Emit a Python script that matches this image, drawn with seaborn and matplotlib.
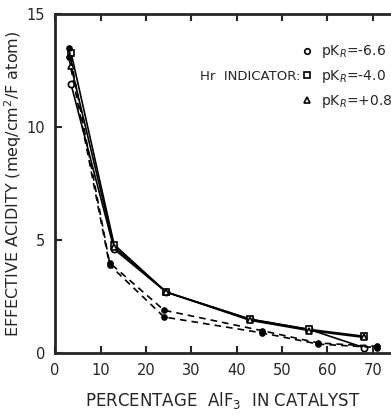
import pandas as pd
import seaborn as sns
import matplotlib.pyplot as plt
from matplotlib.lines import Line2D

# solid curves (one per Hr indicator)
solid_x = [3.5, 13, 24.5, 43, 56, 68]
circle_y = [11.9, 4.6, 2.7, 1.5, 1.05, 0.25]
square_y = [13.3, 4.8, 2.7, 1.5, 1.05, 0.75]
triangle_y = [12.7, 4.7, 2.7, 1.45, 1.0, 0.7]

# dashed curves
dashed_x = [3, 12, 24, 45.5, 58, 71]
dashed_a_y = [13.5, 4.0, 1.9, 1.0, 0.45, 0.3]
dashed_b_y = [13.1, 3.9, 1.6, 0.9, 0.4, 0.25]

legend_labels = ['pK$_R$=-6.6', 'pK$_R$=-4.0', 'pK$_R$=+0.8']

sns.set_style("ticks")
plt.rcParams['font.family'] = ['DejaVu Sans']
plt.rcParams['mathtext.fontset'] = 'dejavusans'

fig = plt.figure(figsize=(3.91, 4.15), dpi=100)
ax = fig.add_axes([0.141, 0.149, 0.859, 0.817])

solid = pd.DataFrame({
    'x': solid_x * 3,
    'y': circle_y + square_y + triangle_y,
    'ind': ['c'] * 6 + ['s'] * 6 + ['t'] * 6,
})
dashed = pd.DataFrame({
    'x': dashed_x * 2,
    'y': dashed_a_y + dashed_b_y,
    'ind': ['a'] * 6 + ['b'] * 6,
})

sns.lineplot(data=solid, x='x', y='y', hue='ind', style='ind',
             markers={'c': 'o', 's': 's', 't': '^'}, dashes=False,
             palette=['black'] * 3, lw=1.2, ms=4.5, mfc='white', mec='black',
             mew=1.2, legend=False, ax=ax)
sns.lineplot(data=dashed, x='x', y='y', hue='ind', style='ind',
             markers={'a': 'o', 'b': 'o'}, dashes={'a': (4, 3), 'b': (4, 3)},
             palette=['black'] * 2, lw=1.2, ms=4, mfc='black', mec='black',
             legend=False, ax=ax)

ax.set_xlim(0, 74)
ax.set_ylim(0, 15)
ax.set_xticks(range(0, 80, 10))
ax.set_yticks([0, 5, 10, 15])
ax.tick_params(direction='in', length=5, width=1.5, labelsize=10.5,
               top=True, pad=7)
for s in ['left', 'bottom', 'top']:
    ax.spines[s].set_linewidth(2)
ax.spines['right'].set_visible(False)

ax.set_xlabel('PERCENTAGE  AlF$_3$  IN CATALYST', fontsize=12, labelpad=9)
ax.set_ylabel('EFFECTIVE ACIDITY (meq/cm$^2$/F atom)', fontsize=11.5,
              labelpad=2)

handles = [Line2D([], [], ls='none', marker=m, ms=4, mfc='white',
                  mec='black', mew=1.2) for m in ['o', 's', '^']]
ax.legend(handles, legend_labels, loc='upper right', frameon=False,
          fontsize=10, handletextpad=0.0, labelspacing=0.55,
          borderaxespad=0.0, bbox_to_anchor=(1.02, 0.93))
ax.text(0.73, 0.815, 'Hr  INDICATOR:', transform=ax.transAxes,
        ha='right', va='center', fontsize=9.5)

fig.savefig('out.png', dpi=100)
